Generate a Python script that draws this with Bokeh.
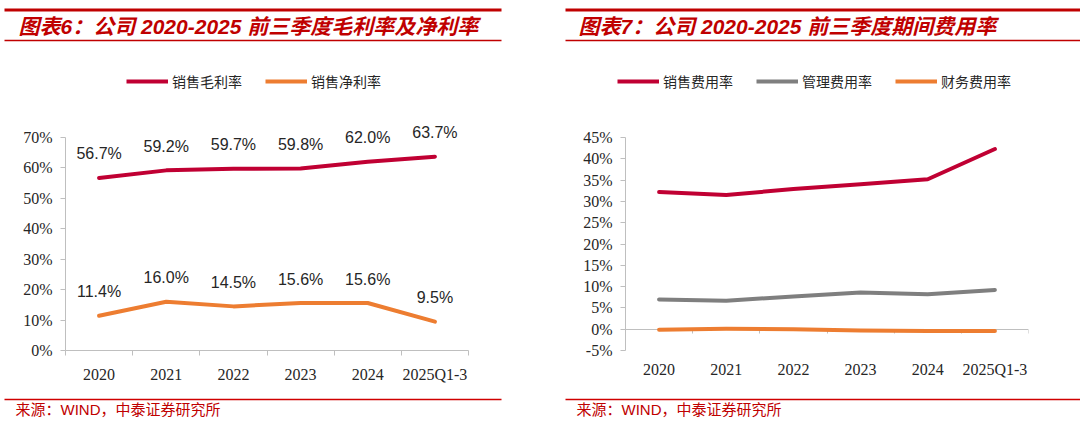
from bokeh.plotting import figure
from bokeh.layouts import row, column
from bokeh.models import (Range1d, FixedTicker, LinearAxis, PrintfTickFormatter,
                          Legend, LegendItem)
from bokeh.core.properties import value
from bokeh.embed import file_html
from bokeh.resources import INLINE

# ---------------- data ----------------
categories = ["2020", "2021", "2022", "2023", "2024", "2025Q1-3"]
gross_margin = [56.7, 59.2, 59.7, 59.8, 62.0, 63.7]     # 销售毛利率
net_margin = [11.4, 16.0, 14.5, 15.6, 15.6, 9.5]        # 销售净利率
selling_exp = [32.2, 31.5, 32.9, 34.0, 35.2, 42.3]      # 销售费用率
admin_exp = [7.0, 6.7, 7.7, 8.6, 8.2, 9.2]              # 管理费用率
finance_exp = [-0.1, 0.1, 0.0, -0.3, -0.4, -0.4]        # 财务费用率
left_y_ticks = [0, 10, 20, 30, 40, 50, 60, 70]
right_y_ticks = [-5, 0, 5, 10, 15, 20, 25, 30, 35, 40, 45]

title_left = "图表6：公司 2020-2025 前三季度毛利率及净利率"
title_right = "图表7：公司 2020-2025 前三季度期间费用率"
source_text = "来源：WIND，中泰证券研究所"
legend_left = ["销售毛利率", "销售净利率"]
legend_right = ["销售费用率", "管理费用率", "财务费用率"]

# ---------------- style ----------------
RED = "#C00000"
C_RED = "#C00033"
C_ORANGE = "#ED7D31"
C_GRAY = "#7F7F7F"
AXIS = "#BFBFBF"
TXT = "#262626"
W = 540
HEAD_H, CHART_H, FOOT_H = 110, 280, 32
SERIF = "Liberation Serif"
SANS = value("Liberation Sans")
TITLE_FONT = value("Liberation Sans, Noto Sans CJK SC")
CJK = "Noto Sans CJK SC"
NAN = float("nan")

n = len(categories)
centers = [i + 0.5 for i in range(n)]
bounds = [float(i) for i in range(n + 1)]


def blank(height):
    p = figure(width=W, height=height, x_range=Range1d(0, W), y_range=Range1d(height, 0),
               x_axis_type=None, y_axis_type=None, output_backend="svg",
               toolbar_location=None, min_border=0, frame_align=False)
    p.grid.visible = False
    p.outline_line_color = None
    return p


def header(title, x0, x1, xt, labels, colors, legend_x):
    p = blank(HEAD_H)
    p.segment(x0=[x0], y0=[9.5], x1=[x1], y1=[9.5], line_color=RED, line_width=3)
    p.segment(x0=[x0], y0=[40], x1=[x1], y1=[40], line_color=RED, line_width=1.5)
    p.text(x=[xt], y=[26], text=[title], text_font=TITLE_FONT, text_font_size="21px",
           text_font_style="bold italic", text_color=RED, text_baseline="middle",
           text_align="left")
    items = []
    for lab, col in zip(labels, colors):
        # legend key renderer (no visible data; only supplies the line style)
        r = p.line(x=[NAN, NAN], y=[NAN, NAN], line_color=col, line_width=4)
        items.append(LegendItem(label=lab, renderers=[r]))
    leg = Legend(items=items, location=(legend_x, HEAD_H - 83 - 8), orientation="horizontal",
                 padding=0, margin=0, spacing=19, glyph_width=42, glyph_height=16,
                 label_height=16, label_width=74, label_standoff=4,
                 label_text_font=CJK, label_text_font_size="14px",
                 label_text_color=TXT, background_fill_alpha=0, border_line_alpha=0)
    p.add_layout(leg)
    return p


def footer(x0, x1, xt):
    p = blank(FOOT_H)
    p.segment(x0=[x0], y0=[9], x1=[x1], y1=[9], line_color="#D00000", line_width=1.5)
    p.text(x=[xt], y=[19], text=[source_text], text_font=TITLE_FONT, text_font_size="15px",
           text_color=RED, text_baseline="middle", text_align="left")
    return p


def style_y(ax, ticks, bnds):
    ax.ticker = FixedTicker(ticks=ticks)
    ax.bounds = bnds
    ax.formatter = PrintfTickFormatter(format="%d%%")
    ax.major_label_text_font = SERIF
    ax.major_label_text_font_size = "16px"
    ax.major_label_text_color = TXT
    ax.axis_line_color = AXIS
    ax.major_tick_line_color = AXIS
    ax.major_tick_out = 5
    ax.major_tick_in = 0
    ax.minor_tick_line_color = None
    ax.major_label_standoff = 8


def style_x(ax, with_line):
    ax.ticker = FixedTicker(ticks=centers, minor_ticks=bounds if with_line else [])
    ax.major_label_overrides = {c: lab for c, lab in zip(centers, categories)}
    ax.major_label_text_font = SERIF
    ax.major_label_text_font_size = "16px"
    ax.major_label_text_color = TXT
    ax.major_tick_line_color = None
    ax.major_tick_out = 0
    ax.major_tick_in = 0
    ax.minor_tick_out = 5
    ax.minor_tick_in = 0
    ax.minor_tick_line_color = AXIS if with_line else None
    ax.axis_line_color = AXIS if with_line else None
    ax.major_label_standoff = 10


# ---------------- left chart ----------------
left_top = 70 * 240 / 213
c1 = figure(width=W, height=CHART_H, x_range=Range1d(0, n), y_range=Range1d(0, left_top),
            output_backend="svg", toolbar_location=None, frame_align=False,
            min_border_left=65, min_border_right=72, min_border_top=0, min_border_bottom=40)
c1.grid.visible = False
c1.outline_line_color = None
style_y(c1.yaxis[0], left_y_ticks, (0, 70))
style_x(c1.xaxis[0], True)
for ys, col in [(gross_margin, C_RED), (net_margin, C_ORANGE)]:
    c1.line(x=centers, y=ys, line_color=col, line_width=4, line_cap="round", line_join="round")
    c1.text(x=centers, y=ys, text=[f"{v:.1f}%" for v in ys], y_offset=-24,
            text_font=SANS, text_font_size="16px", text_color=TXT,
            text_align="center", text_baseline="middle")

# ---------------- right chart ----------------
c2 = figure(width=W, height=CHART_H, x_range=Range1d(0, n), y_range=Range1d(-5, 45),
            output_backend="svg", toolbar_location=None, frame_align=False,
            min_border_left=85, min_border_right=52, min_border_top=27, min_border_bottom=40)
c2.grid.visible = False
c2.outline_line_color = None
style_y(c2.yaxis[0], right_y_ticks, "auto")
style_x(c2.xaxis[0], False)
zero_axis = LinearAxis(fixed_location=0, ticker=FixedTicker(ticks=[], minor_ticks=bounds),
                       axis_line_color=AXIS, minor_tick_line_color=AXIS, minor_tick_out=4,
                       minor_tick_in=0, major_tick_line_color=None,
                       major_label_text_font_size="0px", major_label_standoff=0)
c2.add_layout(zero_axis, "below")
for ys, col in [(selling_exp, C_RED), (admin_exp, C_GRAY), (finance_exp, C_ORANGE)]:
    c2.line(x=centers, y=ys, line_color=col, line_width=4, line_cap="round",
            line_join="round", level="overlay")

# ---------------- assemble ----------------
h1 = header(title_left, 4, 501, 18, legend_left, [C_RED, C_ORANGE], 126)
h2 = header(title_right, 25, W, 38, legend_right, [C_RED, C_GRAY, C_ORANGE], 77)
f1 = footer(4, 501, 15)
f2 = footer(25, W, 36)

layout = row(column(h1, c1, f1, spacing=0), column(h2, c2, f2, spacing=0), spacing=0)
open("out.html", "w").write(file_html(layout, INLINE))
